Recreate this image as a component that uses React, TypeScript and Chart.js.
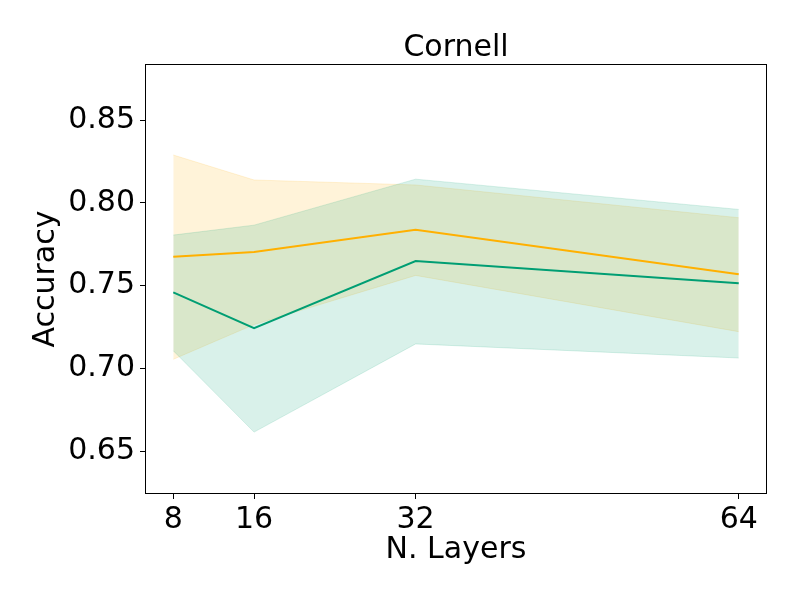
import { useEffect, useRef } from 'react'
import { Chart, registerables } from 'chart.js'
import type { Plugin } from 'chart.js'

Chart.register(...registerables)

// N. Layers on the x axis
const layers = [8, 16, 32, 64]
const xTicks = [8, 16, 32, 64]
const yTicks = [0.65, 0.7, 0.75, 0.8, 0.85]

// orange run: mean and band
const orangeMean = [0.7675, 0.7704, 0.7838, 0.7569]
const orangeUpper = [0.829, 0.8139, 0.8109, 0.7911]
const orangeLower = [0.7055, 0.7265, 0.7562, 0.7222]

// green run: mean and band
const greenMean = [0.746, 0.7244, 0.7649, 0.7515]
const greenUpper = [0.7806, 0.7866, 0.8144, 0.7961]
const greenLower = [0.7107, 0.6615, 0.7148, 0.7063]

const ORANGE = '#FFB000'
const GREEN = '#009E73'
const ORANGE_FILL = 'rgba(255, 176, 0, 0.15)'
const GREEN_FILL = 'rgba(0, 158, 115, 0.15)'
const FONT = 'DejaVu Sans'

const pts = (ys: number[]) => layers.map((x, i) => ({ x, y: ys[i] }))

// frame around the plot and the title over it
const framePlugin: Plugin = {
  id: 'frame',
  afterDraw(chart) {
    const { ctx, chartArea } = chart
    const { left, top, right, bottom } = chartArea
    ctx.save()
    ctx.strokeStyle = '#000'
    ctx.lineWidth = 1
    ctx.strokeRect(left + 0.5, top + 0.5, right - left - 1, bottom - top - 1)
    ctx.fillStyle = '#000'
    ctx.font = `30px "${FONT}"`
    ctx.textAlign = 'center'
    ctx.textBaseline = 'alphabetic'
    ctx.fillText('Cornell', (left + right) / 2, 56)
    ctx.restore()
  }
}

export default function App() {
  const chartRef = useRef<HTMLCanvasElement>(null)

  useEffect(() => {
    document.body.style.margin = '0'
    if (!chartRef.current) return
    const ctx = chartRef.current.getContext('2d')
    if (!ctx) return

    const band = (ys: number[], fill: any, bg: string) => ({
      data: pts(ys),
      borderColor: bg,
      borderWidth: 1,
      backgroundColor: bg,
      pointRadius: 0,
      fill
    })

    const chart = new Chart(ctx, {
      type: 'line',
      data: {
        datasets: [
          { data: pts(greenMean), borderColor: GREEN, borderWidth: 2, pointRadius: 0, fill: false },
          { data: pts(orangeMean), borderColor: ORANGE, borderWidth: 2, pointRadius: 0, fill: false },
          band(greenUpper, false, GREEN_FILL),
          band(greenLower, '-1', GREEN_FILL),
          band(orangeUpper, false, ORANGE_FILL),
          band(orangeLower, '-1', ORANGE_FILL)
        ]
      },
      options: {
        animation: false,
        responsive: false,
        layout: { padding: { top: 64, right: 33, bottom: 0, left: 0 } },
        plugins: {
          legend: { display: false },
          tooltip: { enabled: false },
          title: { display: false }
        },
        scales: {
          x: {
            type: 'linear',
            min: 5.2,
            max: 66.8,
            afterBuildTicks: (scale: any) => {
              scale.ticks = xTicks.map(v => ({ value: v }))
            },
            afterFit: (scale: any) => {
              scale.height = 106
            },
            ticks: {
              color: '#000',
              font: { family: FONT, size: 30 },
              padding: 3,
              maxRotation: 0,
              autoSkip: false
            },
            grid: { drawOnChartArea: false, drawTicks: true, tickLength: 5, color: '#000' },
            border: { display: false },
            title: {
              display: true,
              text: 'N. Layers',
              color: '#000',
              font: { family: FONT, size: 30 },
              padding: { top: 0, bottom: 32 }
            }
          },
          y: {
            type: 'linear',
            min: 0.6241,
            max: 0.884,
            afterBuildTicks: (scale: any) => {
              scale.ticks = yTicks.map(v => ({ value: v }))
            },
            afterFit: (scale: any) => {
              scale.width = 145
            },
            ticks: {
              color: '#000',
              font: { family: FONT, size: 30 },
              padding: 5,
              callback: (v: any) => Number(v).toFixed(2)
            },
            grid: { drawOnChartArea: false, drawTicks: true, tickLength: 5, color: '#000' },
            border: { display: false },
            title: {
              display: true,
              text: 'Accuracy',
              color: '#000',
              font: { family: FONT, size: 30 },
              padding: { top: 28, bottom: 0 }
            }
          }
        }
      },
      plugins: [framePlugin]
    })

    return () => {
      chart.destroy()
    }
  }, [])

  return (
    <div style={{ position: 'absolute', top: 0, left: 0, width: 800, height: 600 }}>
      <canvas ref={chartRef} width={800} height={600}></canvas>
    </div>
  )
}
